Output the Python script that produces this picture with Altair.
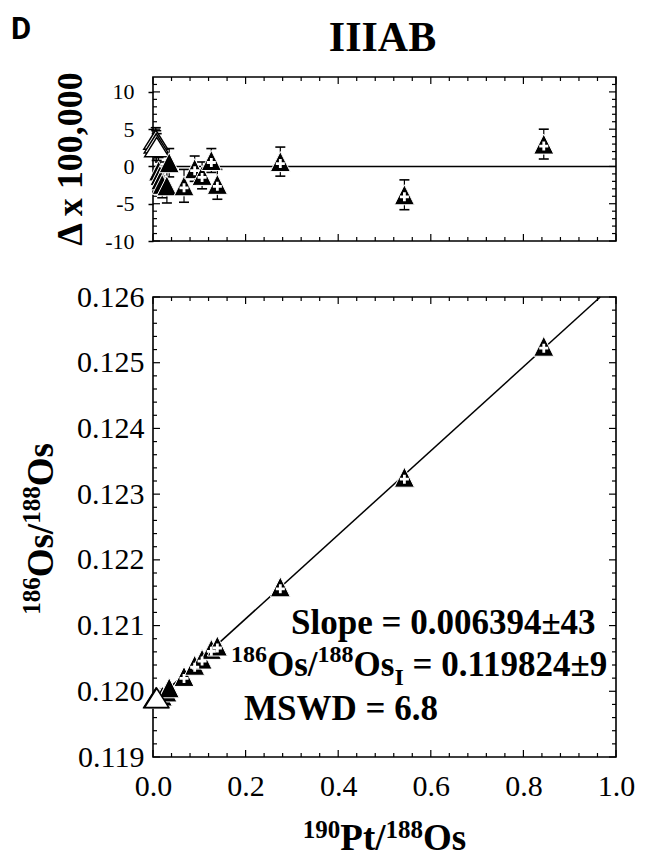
import altair as alt
import pandas as pd

# ---------------- data ----------------
PT_OS = [0.006, 0.007, 0.008, 0.012, 0.015, 0.017, 0.020, 0.030, 0.035,
         0.067, 0.090, 0.106, 0.126, 0.139, 0.275, 0.543, 0.844]
OS_OS = [0.119898, 0.119899, 0.119900, 0.119895, 0.119908, 0.119915, 0.119928,
         0.119990, 0.120053, 0.120226, 0.120396, 0.120490, 0.120638, 0.120689,
         0.121589, 0.123258, 0.125251]
DELTA = [3.6, 3.1, 2.6, -0.6, -1.2, -1.8, -2.4, -2.6, 0.5,
         -2.6, -0.3, -1.2, 0.8, -2.4, 0.65, -3.8, 3.0]
DELTA_ERR = [1.6, 1.7, 1.8, 1.8, 1.8, 1.8, 1.8, 2.3, 1.9,
             2.2, 1.7, 1.8, 1.6, 2.0, 1.95, 2.0, 2.0]
KIND = ["open"] * 3 + ["filled"] * 6 + ["cross"] * 8

FIT_X = [0.0, 0.966]
FIT_Y = [0.119824, 0.126]

X_MAJOR = [0.0, 0.2, 0.4, 0.6, 0.8, 1.0]
X_MINOR = [0.04, 0.08, 0.12, 0.16, 0.24, 0.28, 0.32, 0.36, 0.44, 0.48,
           0.52, 0.56, 0.64, 0.68, 0.72, 0.76, 0.84, 0.88, 0.92, 0.96]
R_MAJOR = [0.119, 0.120, 0.121, 0.122, 0.123, 0.124, 0.125, 0.126]
R_MINOR = [0.1192, 0.1194, 0.1196, 0.1198, 0.1202, 0.1204, 0.1206, 0.1208,
           0.1212, 0.1214, 0.1216, 0.1218, 0.1222, 0.1224, 0.1226, 0.1228,
           0.1232, 0.1234, 0.1236, 0.1238, 0.1242, 0.1244, 0.1246, 0.1248,
           0.1252, 0.1254, 0.1256, 0.1258]
D_MAJOR = [-10, -5, 0, 5, 10]
D_MINOR = [-9, -8, -7, -6, -4, -3, -2, -1, 1, 2, 3, 4, 6, 7, 8, 9, 11]

SLOPE_TXT = "Slope = 0.006394\u00b143"
INIT_TXT = "= 0.119824\u00b19"
MSWD_TXT = "MSWD = 6.8"

# ---------------- styling ----------------
SERIF = "Liberation Serif"
W = 463
HT = 164
HB = 460
TRI = "M-1,1L1,1L0,-1Z"
TRI_OPEN = "M-1,0.8L1,0.8L0,-0.8Z"
PLUS = "M-1,0L1,0M0,-1L0,1"
CAP = "M-1,0L1,0"

# Times-Bold advance widths (per 1000 em) for laying out multi-size titles
WB = {str(d): 500 for d in range(10)}
WB.update({".": 250, " ": 250, "=": 570, "\u00b1": 570, "/": 278, "O": 778,
           "s": 389, "P": 611, "t": 333, "I": 389})


def tw(s, size):
    return sum(WB.get(c, 500) for c in s) * size / 1000.0


def txt(s, x, y, size, bold=True, angle=0, align="left", font=SERIF):
    return alt.Chart(pd.DataFrame({"t": [s]})).mark_text(
        align=align, baseline="alphabetic", angle=angle, font=font,
        fontSize=size, fontWeight="bold" if bold else "normal", color="black"
    ).encode(text="t:N", x=alt.value(x), y=alt.value(y))


def hseq(pieces, x0, y0):
    out, x = [], x0
    for s, size, dy in pieces:
        out.append(txt(s, x, y0 + dy, size))
        x += tw(s, size)
    return out


def vseq(pieces, x0, y0):
    out, y = [], y0
    for s, size, dy in pieces:
        out.append(txt(s, x0 + dy, y, size, angle=270))
        y -= tw(s, size)
    return out


xs = alt.Scale(domain=[0, 1], nice=False, zero=False)
yts = alt.Scale(domain=[-10, 12], nice=False, zero=False)
ybs = alt.Scale(domain=[0.119, 0.126], nice=False, zero=False)

AX_TY = alt.Axis(values=D_MAJOR, labelExpr="toString(datum.value)", ticks=True, tickSize=5,
                 tickWidth=1.5, tickColor="black", domain=False, grid=False, labelFlush=False,
                 labelFont=SERIF, labelFontSize=22, labelPadding=14, labelColor="black",
                 title=None)
AX_BX = alt.Axis(values=X_MAJOR, format=".1f", ticks=False, domain=False, grid=False,
                 labelFlush=False,
                 labelFont=SERIF, labelFontSize=30, labelPadding=14, labelColor="black",
                 title=None)
AX_BY = alt.Axis(values=R_MAJOR, format=".3f", ticks=False, domain=False, grid=False,
                 labelFlush=False,
                 labelFont=SERIF, labelFontSize=30, labelPadding=9, labelColor="black",
                 title=None)


def tick_layer(vals, side, length, H, xs_, ys_, axx, axy):
    base = alt.Chart(pd.DataFrame({"v": vals})).mark_rule(color="black", strokeWidth=1.2)
    if side == "bottom":
        return base.encode(x=alt.X("v:Q", scale=xs_, axis=axx), y=alt.value(H), y2=alt.value(H - length))
    if side == "top":
        return base.encode(x=alt.X("v:Q", scale=xs_, axis=axx), y=alt.value(0), y2=alt.value(length))
    if side == "left":
        return base.encode(y=alt.Y("v:Q", scale=ys_, axis=axy), x=alt.value(0), x2=alt.value(length))
    return base.encode(y=alt.Y("v:Q", scale=ys_, axis=axy), x=alt.value(W), x2=alt.value(W - length))


def all_ticks(xmaj, xmin, ymaj, ymin, H, xs_, ys_, axx, axy):
    out = []
    for side in ("bottom", "top"):
        out.append(tick_layer(xmaj, side, 7, H, xs_, ys_, axx, axy))
        out.append(tick_layer(xmin, side, 4, H, xs_, ys_, axx, axy))
    for side in ("left", "right"):
        out.append(tick_layer(ymaj, side, 7, H, xs_, ys_, axx, axy))
        out.append(tick_layer(ymin, side, 4, H, xs_, ys_, axx, axy))
    return out


pts = pd.DataFrame({"x": PT_OS, "r": OS_OS, "d": DELTA, "e": DELTA_ERR, "k": KIND})
pts["lo"] = pts["d"] - pts["e"]
pts["hi"] = pts["d"] + pts["e"]

# ---------------- top panel (residuals) ----------------
TX = dict(scale=xs, axis=None)
TY = dict(scale=yts, axis=AX_TY)
top_layers = []
# invisible anchor fixing the top-left extent of the figure
top_layers.append(
    alt.Chart(pd.DataFrame({"t": ["a"]})).mark_rule(opacity=0, strokeWidth=1).encode(
        x=alt.value(-152), x2=alt.value(-152), y=alt.value(-76), y2=alt.value(0))
)
top_layers += all_ticks(X_MAJOR, X_MINOR, D_MAJOR, D_MINOR, HT, xs, yts, None, AX_TY)
top_layers.append(
    alt.Chart(pd.DataFrame({"v": [0]})).mark_rule(color="black", strokeWidth=1.5).encode(
        y=alt.Y("v:Q", **TY))
)
base_top = alt.Chart(pts)
top_layers.append(base_top.mark_rule(color="black", strokeWidth=1.2).encode(
    x=alt.X("x:Q", **TX), y=alt.Y("lo:Q", **TY), y2="hi:Q"))
for fld in ("lo", "hi"):
    top_layers.append(base_top.mark_point(shape=CAP, size=100, filled=False, stroke="black",
                                          strokeWidth=1.6, opacity=1).encode(
        x=alt.X("x:Q", **TX), y=alt.Y(fld + ":Q", **TY)))
top_layers.append(base_top.transform_filter(alt.datum.k == "open").mark_point(
    shape=TRI_OPEN, size=576, filled=True, fill="white", stroke="black", strokeWidth=1.5,
    opacity=1).encode(x=alt.X("x:Q", **TX), y=alt.Y("d:Q", **TY)))
top_layers.append(base_top.transform_filter(alt.datum.k != "open").mark_point(
    shape=TRI, size=400, filled=True, fill="black", stroke="white", strokeWidth=1,
    opacity=1).encode(x=alt.X("x:Q", **TX), y=alt.Y("d:Q", **TY)))
top_layers.append(base_top.transform_filter(alt.datum.k == "cross").mark_point(
    shape=PLUS, size=81, filled=False, stroke="white", strokeWidth=2.8, opacity=1,
    yOffset=2).encode(x=alt.X("x:Q", **TX), y=alt.Y("d:Q", **TY)))
# titles
top_layers.append(txt("D", -142, -38, 31, font="Roboto"))
top_layers.append(txt("IIIAB", W / 2 - 2, -26, 42, align="center"))
top_layers.append(txt("\u0394 x 100,000", -71, HT / 2, 36, angle=270, align="center"))

top = alt.layer(*top_layers).properties(width=W, height=HT)

# ---------------- bottom panel (isochron) ----------------
BX = dict(scale=xs, axis=AX_BX)
BY = dict(scale=ybs, axis=AX_BY)
bot_layers = []
bot_layers += all_ticks(X_MAJOR, X_MINOR, R_MAJOR, R_MINOR, HB, xs, ybs, AX_BX, AX_BY)
bot_layers.append(
    alt.Chart(pd.DataFrame({"fx": FIT_X, "fy": FIT_Y})).mark_line(color="black", strokeWidth=1.5).encode(
        x=alt.X("fx:Q", **BX), y=alt.Y("fy:Q", **BY))
)
base_bot = alt.Chart(pts)
bot_layers.append(base_bot.transform_filter(alt.datum.k != "open").mark_point(
    shape=TRI, size=400, filled=True, fill="black", stroke="white", strokeWidth=1,
    opacity=1).encode(x=alt.X("x:Q", **BX), y=alt.Y("r:Q", **BY)))
bot_layers.append(base_bot.transform_filter(alt.datum.k == "cross").mark_point(
    shape=PLUS, size=81, filled=False, stroke="white", strokeWidth=2.8, opacity=1,
    yOffset=2).encode(x=alt.X("x:Q", **BX), y=alt.Y("r:Q", **BY)))
bot_layers.append(base_bot.transform_filter(alt.datum.k == "open").mark_point(
    shape=TRI_OPEN, size=576, filled=True, fill="white", stroke="black", strokeWidth=1.5,
    opacity=1).encode(x=alt.X("x:Q", **BX), y=alt.Y("r:Q", **BY)))

# statistics annotation
bot_layers.append(txt(SLOPE_TXT, 138, 337, 35))
bot_layers += hseq([("186", 24, -14), ("Os/", 35, 0), ("188", 24, -14), ("Os", 35, 0)], 78, 379)
_x_sub = 78 + tw("186", 24) + tw("Os/", 35) + tw("188", 24) + tw("Os", 35)
bot_layers.append(txt("I", _x_sub, 388, 24))
bot_layers.append(txt(INIT_TXT, _x_sub + tw("I", 24) + tw(" ", 35), 379, 35))
bot_layers.append(txt(MSWD_TXT, 91, 423, 35))

# axis titles with superscripts
_xt = [("190", 25, -12), ("Pt/", 37, 0), ("188", 25, -12), ("Os", 37, 0)]
_xt_len = sum(tw(s, z) for s, z, _ in _xt)
bot_layers += hseq(_xt, W / 2 - _xt_len / 2, 553)
_yt = [("186", 25, -13), ("Os/", 37, 0), ("188", 25, -13), ("Os", 37, 0)]
_yt_len = sum(tw(s, z) for s, z, _ in _yt)
bot_layers += vseq(_yt, -100, 232 + _yt_len / 2)

bottom = alt.layer(*bot_layers).properties(width=W, height=HB)

chart = alt.vconcat(top, bottom, spacing=28).properties(
    padding={"left": 0, "top": 0, "right": 0, "bottom": 0},
    background="white",
).configure_view(stroke="black", strokeWidth=1.6)

chart.save("out.html", embed_options={"renderer": "svg", "actions": False})
